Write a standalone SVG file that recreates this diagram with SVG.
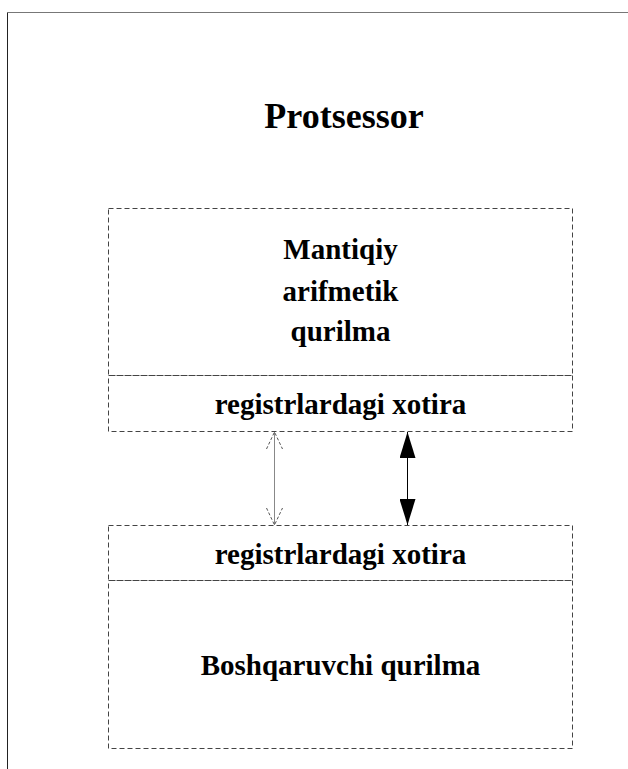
<svg xmlns="http://www.w3.org/2000/svg" width="628" height="769" viewBox="0 0 628 769">
  <defs>
    <style>
      .box { fill: none; stroke: #444; stroke-width: 1; stroke-dasharray: 5 3; }
      .lbl { font-family: "Liberation Serif", "Times New Roman", serif; font-weight: bold; fill: #000; text-anchor: middle; font-size: 29px; }
      .thin { stroke: #888; stroke-width: 1; fill: none; }
      .openhead { stroke: #555; stroke-width: 1; fill: none; stroke-dasharray: 3 2; }
    </style>
    <marker id="solidHead" viewBox="0 0 26 16" refX="26" refY="8" markerWidth="26" markerHeight="16" markerUnits="userSpaceOnUse" orient="auto-start-reverse">
      <path d="M0,0 L26,8 L0,16 Z" fill="#000"/>
    </marker>
  </defs>
  <rect width="628" height="769" fill="#fff"/>

  <!-- outer frame, running off the right and bottom edges -->
  <g id="frame">
    <line x1="7.5" y1="12.5" x2="628" y2="12.5" stroke="#777" stroke-width="1"/>
    <line x1="7.5" y1="12.5" x2="7.5" y2="769" stroke="#222" stroke-width="1"/>
  </g>

  <g id="title">
    <text class="lbl" x="344" y="128" style="font-size:36px">Protsessor</text>
  </g>

  <g id="alu">
    <rect class="box" x="108.5" y="208.5" width="464" height="167"/>
    <text class="lbl" x="340.5" y="259">Mantiqiy</text>
    <text class="lbl" x="340.5" y="301">arifmetik</text>
    <text class="lbl" x="340.5" y="341">qurilma</text>
  </g>

  <g id="alu-registers">
    <rect class="box" x="108.5" y="375.5" width="464" height="56"/>
    <text class="lbl" x="340.5" y="414">registrlardagi xotira</text>
  </g>

  <g id="cu-registers">
    <rect class="box" x="108.5" y="525.5" width="464" height="55"/>
    <text class="lbl" x="340.5" y="564">registrlardagi xotira</text>
  </g>

  <g id="control-unit">
    <rect class="box" x="108.5" y="580.5" width="464" height="168"/>
    <text class="lbl" x="340.5" y="675">Boshqaruvchi qurilma</text>
  </g>

  <g id="connectors">
    <line class="thin" x1="274.5" y1="432" x2="274.5" y2="525"/>
    <path class="openhead" d="M266.5,449 L274.5,432 L282.5,449"/>
    <path class="openhead" d="M266.5,508 L274.5,525 L282.5,508"/>
    <line x1="407.5" y1="432" x2="407.5" y2="525" stroke="#000" stroke-width="1" marker-start="url(#solidHead)" marker-end="url(#solidHead)"/>
  </g>
</svg>
